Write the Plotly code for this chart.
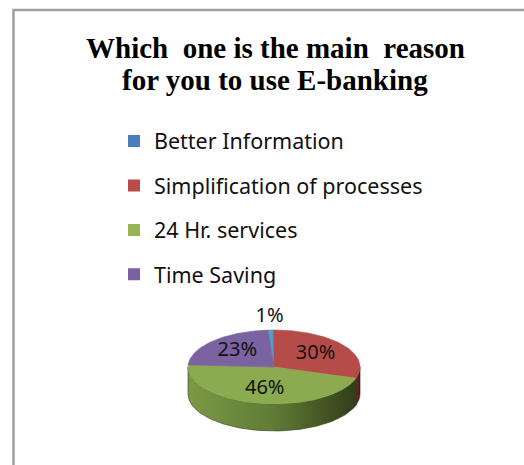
import numpy as np
import plotly.graph_objects as go

# Survey answers
reasons = ["Better Information", "Simplification of processes", "24 Hr. services", "Time Saving"]
shares = [1, 30, 46, 23]  # percent

title_lines = ["Which  one is the main  reason", "for you to use E-banking"]

# Styling
legend_colors = ["#4A7EBB", "#BA4B48", "#95B555", "#7B60A0"]
face_colors = ["#4F9FC9", "#B64C49", "#8CAA4F", "#7B62A0"]
side_scales = [
    [[0, "#3E7BA0"], [1, "#244A60"]],
    [[0, "#6E2A28"], [1, "#4A1A19"]],
    [[0, "#7D9946"], [0.5, "#617C35"], [1, "#313E1A"]],
    [[0, "#5E4680"], [1, "#3A2B52"]],
]

W, H = 524, 465
CX, CY = 274, 367      # centre of the top face
RX, RY = 86, 37        # ellipse semi-axes
DEPTH = 27             # thickness of the disc
START_DEG = 94         # angle where the first slice begins, going clockwise


def arc(t_from, t_to, n=80, dy=0.0):
    t = np.radians(np.linspace(t_from, t_to, n))
    return CX + RX * np.cos(t), CY - RY * np.sin(t) + dy


total = float(sum(shares))
bounds = []
acc = 0.0
for s in shares:
    a = START_DEG - 360 * acc / total
    acc += s
    b = START_DEG - 360 * acc / total
    bounds.append((a, b))

fig = go.Figure()

# Side walls (front half of the disc only)
for i, (a, b) in enumerate(bounds):
    for k in (-1, 0, 1):
        lo = max(b, -180 + 360 * k)
        hi = min(a, 0 + 360 * k)
        if hi - lo <= 0.01:
            continue
        xt, yt = arc(hi, lo)
        xb, yb = arc(lo, hi, dy=DEPTH)
        fig.add_trace(go.Scatter(
            x=np.concatenate([xt, xb, xt[:1]]),
            y=np.concatenate([yt, yb, yt[:1]]),
            mode="lines", fill="toself",
            line=dict(width=0.6, color=side_scales[i][-1][1]),
            fillgradient=dict(type="horizontal", colorscale=side_scales[i]),
            hoverinfo="skip", showlegend=False,
        ))

# Top faces
for i, (a, b) in enumerate(bounds):
    n = max(6, int(abs(a - b)))
    xs, ys = arc(a, b, n=n)
    fig.add_trace(go.Scatter(
        x=np.concatenate([[CX], xs, [CX]]),
        y=np.concatenate([[CY], ys, [CY]]),
        mode="lines", fill="toself",
        line=dict(width=0.6, color=face_colors[i]),
        fillcolor=face_colors[i],
        hoverinfo="skip", showlegend=False,
    ))

# Percentage labels
lx, ly, lt = [], [], []
for (a, b), s in zip(bounds, shares):
    mid = np.radians((a + b) / 2)
    frac = 1.35 if s < 5 else 0.6
    lx.append(CX + RX * frac * np.cos(mid))
    ly.append(CY - RY * frac * np.sin(mid))
    lt.append(f"{s}%")
fig.add_trace(go.Scatter(
    x=lx, y=ly, text=lt, mode="text",
    textfont=dict(family="Noto Sans", size=20, color="#111111"),
    hoverinfo="skip", showlegend=False,
))

# Legend entries (square swatches)
for i, name in enumerate(reasons):
    fig.add_trace(go.Bar(
        x=[None], y=[None], name=name,
        legendgroup=f"g{i}",
        marker=dict(color=legend_colors[i], line=dict(width=0)),
        hoverinfo="skip",
    ))

# Title (two lines)
for j, line in enumerate(title_lines):
    fig.add_annotation(
        x=0.525, xref="paper", y=1 - (48 + 32 * j) / H, yref="paper",
        text=f"<b>{line}</b>", showarrow=False,
        font=dict(family="Liberation Serif", size=29, color="#000000"),
        xanchor="center", yanchor="middle",
    )

# Chart frame
fig.add_shape(
    type="rect", xref="paper", yref="paper",
    x0=13.5 / W, x1=1.05, y0=-0.05, y1=1 - 10 / H,
    line=dict(color="#A0A0A0", width=2.5), fillcolor="rgba(0,0,0,0)",
    layer="below",
)

fig.update_layout(
    width=W, height=H,
    margin=dict(l=0, r=0, t=0, b=0),
    paper_bgcolor="white", plot_bgcolor="white",
    xaxis=dict(range=[0, W], visible=False, fixedrange=True),
    yaxis=dict(range=[H, 0], visible=False, fixedrange=True),
    showlegend=True,
    legend=dict(
        x=114 / W, xanchor="left", y=1 - 120.5 / H, yanchor="top",
        font=dict(family="Noto Sans", size=21.5, color="#111111"),
        tracegroupgap=13.5, bgcolor="rgba(0,0,0,0)",
        traceorder="grouped",
    ),
)

fig.write_html("out.html")
